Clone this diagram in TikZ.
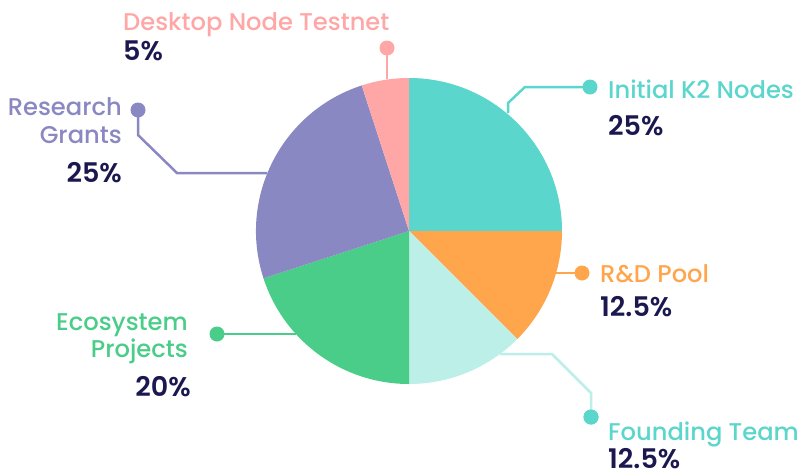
\documentclass[tikz,border=0pt]{standalone}
\usepackage{fontspec}
\setmainfont{Poppins}
\newfontfamily\lblfont{Poppins Medium}
\newfontfamily\pctfont{Poppins SemiBold}
\definecolor{kteal}{HTML}{5BD6CC}
\definecolor{korange}{HTML}{FFA64D}
\definecolor{klight}{HTML}{BDEFE9}
\definecolor{kgreen}{HTML}{4ACD88}
\definecolor{kpurple}{HTML}{8A88C2}
\definecolor{kpink}{HTML}{FFA6A6}
\definecolor{knavy}{HTML}{1B1850}
\tikzset{
  lbl/.style={inner sep=0pt, font=\lblfont\fontsize{24.2}{28}\selectfont},
  pct/.style={inner sep=0pt, text depth=0pt, text=knavy, font=\pctfont\fontsize{27}{30}\selectfont},
  dotmark/.style={circle, fill=#1, inner sep=0pt, minimum size=15pt},
  leader/.style={draw=#1, line width=2.5pt},
}
\begin{document}
\begin{tikzpicture}[x=1pt, y=-1pt]
\useasboundingbox (0,0) rectangle (800,474);
\coordinate (c) at (409,231);
\def\R{153}
% pie slices (angles measured with y pointing down)
\fill[kteal]   (c) -- ++(0:\R)   arc (0:-90:\R)   -- cycle;
\fill[korange] (c) -- ++(0:\R)   arc (0:45:\R)    -- cycle;
\fill[klight]  (c) -- ++(45:\R)  arc (45:90:\R)   -- cycle;
\fill[kgreen]  (c) -- ++(90:\R)  arc (90:162:\R)  -- cycle;
\fill[kpurple] (c) -- ++(162:\R) arc (162:252:\R) -- cycle;
\fill[kpink]   (c) -- ++(252:\R) arc (252:270:\R) -- cycle;

% leader end points on the pie edge
\coordinate (eDesk) at (387,79);
\coordinate (eK2)   at (508,113);
\coordinate (eRes)  at (267,173);
\coordinate (eRD)   at (556,273);
\coordinate (eFound) at (500,354);
\coordinate (eEco)  at (296,334);

% leader dots
\node[dotmark=kpink]   (dDesk)  at (387,48)  {};
\node[dotmark=kteal]   (dK2)    at (590,87)  {};
\node[dotmark=kpurple] (dRes)   at (138,110) {};
\node[dotmark=korange] (dRD)    at (582,273) {};
\node[dotmark=kteal]   (dFound) at (591,417) {};
\node[dotmark=kgreen]  (dEco)   at (217,334) {};

% leaders
\draw[leader=kpink]   (dDesk.center) -- (eDesk);
\draw[leader=kteal]   (dK2.center) -- (525,87) -- (508,103) -- (eK2);
\draw[leader=kpurple] (dRes.center) -- (138,135) -- (177,173) -- (eRes);
\draw[leader=korange] (dRD.center) -- (eRD);
\draw[leader=klight]  (dFound.center) -- (591,393) -- (552,354) -- (eFound);
\draw[leader=kgreen]  (dEco.center) -- (eEco);
\node[dotmark=kteal] at (dFound) {};

% labels
\node[lbl, text=kpink, anchor=base west] (tDesk) at (123,30) {Desktop Node Testnet};
\node[pct, anchor=base west] (pDesk) at (123,60) {5\%};

\node[lbl, text=kteal, anchor=base west] (tK2) at (608,98) {Initial K2 Nodes};
\node[pct, anchor=base west] (pK2) at (608,135) {25\%};

\node[lbl, text=kpurple, anchor=base east] (tRes1) at (122,115) {Research};
\node[lbl, text=kpurple, anchor=base east] (tRes2) at (122,143) {Grants};
\node[pct, anchor=base east] (pRes) at (122,182) {25\%};

\node[lbl, text=korange, anchor=base west] (tRD) at (600,282) {R\&D Pool};
\node[pct, anchor=base west] (pRD) at (600,316) {12.5\%};

\node[lbl, text=kteal, anchor=base west] (tFound) at (608,440) {Founding Team};
\node[pct, anchor=base west] (pFound) at (608,468) {12.5\%};

\node[lbl, text=kgreen, anchor=base east] (tEco1) at (188,330) {Ecosystem};
\node[lbl, text=kgreen, anchor=base east] (tEco2) at (188,357) {Projects};
\node[pct, anchor=base east] (pEco) at (191,396) {20\%};
\end{tikzpicture}
\end{document}
